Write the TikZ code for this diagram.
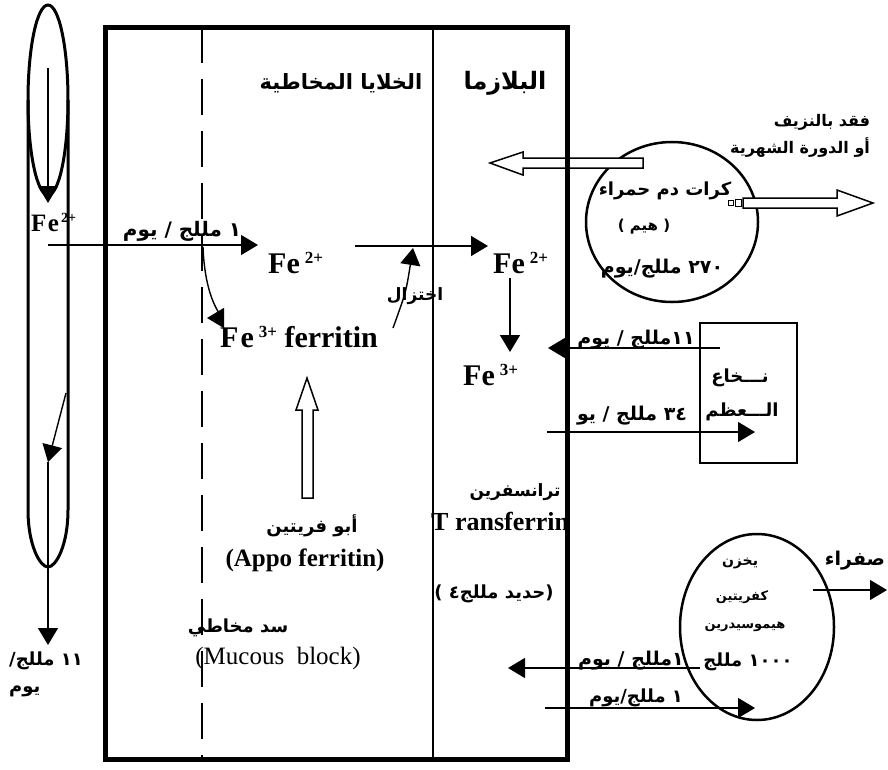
\documentclass[tikz,border=0pt]{standalone}
\usepackage{fontspec}
\setmainfont{Liberation Serif}
\newfontfamily\arabicfont[Script=Arabic]{DejaVu Sans}
\TeXXeTstate=1
\usetikzlibrary{arrows.meta,shapes.geometric}

% Arabic text, right to left
\newcommand{\artxt}[1]{\beginR #1\endR}
\newcommand{\arsize}[1]{\arabicfont\bfseries\fontsize{#1}{#1}\selectfont}

\tikzset{
  border/.style={line width=5pt, line cap=rect},
  divider/.style={line width=1.3pt},
  flow/.style={line width=1.4pt, -{Triangle[length=17pt,width=20pt]}},
  hollow/.style={draw, line width=1.5pt, fill=white, line join=miter},
  organ/.style={draw, line width=2.5pt, ellipse, inner sep=0pt},
  ar/.style={inner sep=0pt, font=\arsize{18}},
  ion/.style={inner sep=0pt, font=\bfseries\fontsize{30}{30}\selectfont},
  lat/.style={inner sep=0pt, font=\bfseries\fontsize{25}{27}\selectfont},
}
\newcommand{\chg}[1]{\,\raisebox{10pt}{\fontsize{17}{17}\selectfont #1}}

\begin{document}
\begin{tikzpicture}[x=1pt,y=-1pt]
\useasboundingbox (0,0) rectangle (888,769);

% ---------- gut lumen: capsule and loop ----------
\node[anchor=base west, inner sep=0pt, font=\bfseries\fontsize{25}{25}\selectfont] (felum) at (31,231) {F\kern1.5pt e\raisebox{9pt}{\fontsize{14}{14}\selectfont\kern2pt 2+}};
\draw[line width=3pt] (28,100) -- (28,510) .. controls (28,545) and (40,567) .. (48,567)
  .. controls (56,567) and (68,545) .. (68,510) -- (68,100);
\node[organ, line width=3pt, minimum width=40pt, minimum height=190pt] (loop) at (48,100) {};
\coordinate (lumtop) at (48,68);
\coordinate (lumin) at (48,203);
\draw[flow] (lumtop) -- (lumin);
\coordinate (wallout) at (66,393);
\coordinate (lumlow) at (48,462);
\coordinate (feces) at (48,645);
\draw[flow] (wallout) -- (lumlow);
\draw[flow] (lumlow) -- (feces);
% pieces set one by one, left to right
\node[ar, anchor=base west, font=\arsize{18}] (loss11) at (9,665) {\artxt{\hbox{١١}\ \hbox{مللج}\hbox{/}}};
\node[ar, anchor=base west, font=\arsize{18}] (lossday) at (9,692) {\artxt{يوم}};

% ---------- mucosal cell / plasma box ----------
\draw[divider, dash pattern=on 36pt off 16pt] (202,27) -- (202,759);
\draw[divider] (433,27) -- (433,759);

\node[ar, font=\arsize{21}] (hcell) at (341,83) {\artxt{الخلايا المخاطية}};
\node[ar, font=\arsize{24}] (hplasma) at (505,83) {\artxt{البلازما}};

% absorption of ferrous iron
\coordinate (absin) at (48,245);
\coordinate (absout) at (258,245);
\draw[flow] (absin) -- (absout);
\node[ar, anchor=base, font=\arsize{20}] (abslbl) at (182,236) {\artxt{١ مللج / يوم}};

\node[ion, anchor=base west] (fe2a) at (268,273) {Fe\chg{2+}};
\node[ion, anchor=base west] (fe2b) at (493,273) {Fe\chg{2+}};
\node[ion, anchor=base west] (fe3) at (463,385) {Fe\chg{3+}};
\node[ion, anchor=base west] (ferritin) at (220,347) {F\kern2pt e\chg{3+}\ ferritin};

\coordinate (tr1) at (355,246);
\coordinate (tr2) at (488,246);
\draw[flow] (tr1) -- (tr2);
\coordinate (ox1) at (510,278);
\coordinate (ox2) at (510,352);
\draw[flow] (ox1) -- (ox2);

% reduction of stored iron
\coordinate (red1) at (393,328);
\coordinate (red2) at (413,248);
\draw[flow] (red1) .. controls (406,292) .. (red2);
\node[ar, font=\arsize{17}] (redlbl) at (415,296) {\artxt{اختزال}};

% storage as ferritin
\coordinate (st1) at (203,247);
\coordinate (st2) at (207,318);
\draw[flow] (st1) .. controls (205,300) and (222,318) .. (st2);

% apoferritin supply
\draw[hollow] (302,498) -- (302,410) -- (296,410) -- (307,378) -- (318,410) -- (313,410) -- (313,498) -- cycle;
\node[ar] (apoar) at (312,526) {\artxt{أبو فريتين}};
\node[lat] (apo) at (305,560) {(Appo ferritin)};

\node[ar] (blockar) at (238,628) {\artxt{سد مخاطي}};
\node[inner sep=0pt, font=\fontsize{25}{27}\selectfont] (block) at (278,658) {(Mucous\ \ block)};

\node[ar, font=\arsize{17}] (transar) at (515,492) {\artxt{ترانسفرين}};
\node[lat, anchor=base west, font=\bfseries\fontsize{26}{27}\selectfont] (trans) at (431,530) {T ransferrin};
% pieces set one by one, left to right
\node[ar] (trfe) at (494,594) {\artxt{\hbox{(}\hbox{حديد}\ \hbox{مللج}\hbox{٤}\ \hbox{)}}};

% ---------- red cells ----------
\node[organ, minimum width=172pt, minimum height=160pt] (rbc) at (672,222) {};
\draw[hollow] (643,158) -- (523,158) -- (523,152) -- (490,163) -- (523,175) -- (523,168) -- (643,168) -- cycle;
\draw[hollow] (743,198) -- (837,198) -- (837,190) -- (873,203) -- (837,216) -- (837,208) -- (743,208) -- cycle;
\draw[line width=1pt] (728,200) rectangle (733,205);
\draw[line width=1pt] (735,199) rectangle (741,206);
\node[ar] (rbc1) at (665,191) {\artxt{كرات دم حمراء}};
\node[ar, font=\arsize{15}] (rbc2) at (644,227) {\artxt{\hbox{(}\ \hbox{هيم}\ \hbox{)}}};
\node[ar, font=\arsize{19}] (rbc3) at (662,269) {\artxt{\beginL ٢٧٠\endL{} مللج/يوم}};
\node[ar, font=\arsize{16}] (bleed1) at (822,122) {\artxt{فقد بالنزيف}};
\node[ar, font=\arsize{16}] (bleed2) at (800,148) {\artxt{أو الدورة الشهرية}};

% ---------- bone marrow ----------
\node[draw, line width=1.8pt, minimum width=97pt, minimum height=140pt, inner sep=0pt] (marrow) at (748.5,393) {};
\node[ar] (marrow1) at (740,378) {\artxt{نـــخاع}};
\node[ar] (marrow2) at (742,412) {\artxt{الـــعظم}};
\coordinate (mo1) at (720,348);
\coordinate (mo2) at (548,348);
\draw[flow] (mo1) -- (mo2);
\node[ar, anchor=base, font=\arsize{19}] (molbl) at (636,344) {\artxt{\beginL ١١\endL مللج / يوم}};
\coordinate (mi1) at (547,432);
\coordinate (mi2) at (755,432);
\draw[flow] (mi1) -- (mi2);
\node[ar, anchor=base, font=\arsize{19}] (milbl) at (632,420) {\artxt{\beginL ٣٤\endL{} مللج / يو}};

% ---------- liver stores ----------
\node[organ, minimum width=154pt, minimum height=186pt] (liver) at (757,627) {};
\node[ar, font=\arsize{14}] (lv1) at (740,563) {\artxt{يخزن}};
\node[ar, font=\arsize{13}] (lv2) at (742,597) {\artxt{كفريتين}};
\node[ar, font=\arsize{13}] (lv3) at (745,627) {\artxt{هيموسيدرين}};
\node[ar, font=\arsize{18}] (lv4) at (748,662) {\artxt{\beginL ١٠٠٠\endL{} مللج}};
\coordinate (bile1) at (813,590);
\coordinate (bile2) at (887,590);
\draw[flow] (bile1) -- (bile2);
\node[ar, anchor=base, font=\arsize{19}] (bile) at (855,565) {\artxt{صفراء}};
\coordinate (lo1) at (700,668);
\coordinate (lo2) at (508,668);
\draw[flow] (lo1) -- (lo2);
\node[ar, anchor=base, font=\arsize{19}] (lolbl) at (631,665) {\artxt{١مللج / يوم}};
\coordinate (li1) at (545,708);
\coordinate (li2) at (755,708);
\draw[flow] (li1) -- (li2);
\node[ar, anchor=base, font=\arsize{18}] (lilbl) at (636,702) {\artxt{١ مللج/يوم}};

% ---------- outer border drawn last ----------
\draw[border] (105,27) rectangle (567,759);
\end{tikzpicture}
\end{document}
